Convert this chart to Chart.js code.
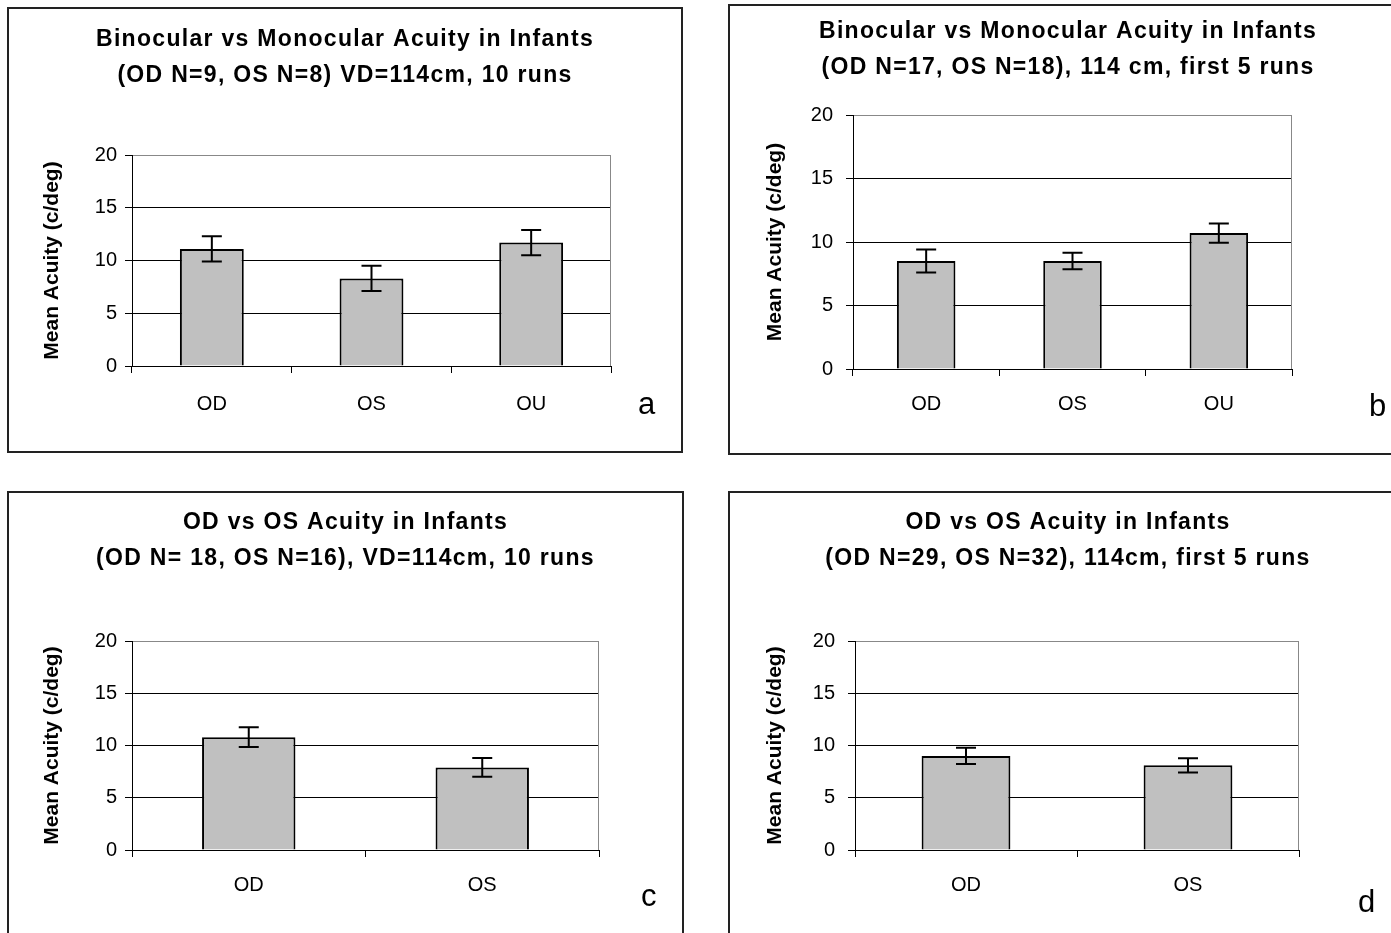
<!DOCTYPE html>
<html>
<head>
<meta charset="utf-8">
<script src="https://cdn.jsdelivr.net/npm/chart.js@4"></script>
<style>
  body { margin: 0; background: #fff; width: 1391px; height: 933px; overflow: hidden; position: relative;
         font-family: "Liberation Sans", Arial, sans-serif; }
  .panel { position: absolute; border: 2px solid #222; box-sizing: border-box; background: #fff; }
  .panel canvas { position: absolute; left: 0; top: 0; }
  .tag { position: absolute; font-size: 31px; line-height: 31px; color: #000; }
</style>
</head>
<body>
<script>
// data
const catsThree = ["OD", "OS", "OU"];
const catsTwo = ["OD", "OS"];
const yTicks = [0, 5, 10, 15, 20];

const titleA = ["Binocular vs Monocular Acuity in Infants", "(OD N=9, OS N=8) VD=114cm, 10 runs"];
const titleB = ["Binocular vs Monocular Acuity in Infants", "(OD N=17, OS N=18), 114 cm, first 5 runs"];
const titleC = ["OD vs OS Acuity in Infants", "(OD N= 18, OS N=16), VD=114cm, 10 runs"];
const titleD = ["OD vs OS Acuity in Infants", "(OD N=29, OS N=32), 114cm, first 5 runs"];
const yLabel = "Mean Acuity (c/deg)";

const meanA = [11.1, 8.3, 11.7];
const errA = [1.2, 1.2, 1.2];
const meanB = [8.5, 8.5, 10.7];
const errB = [0.9, 0.65, 0.75];
const meanC = [10.8, 7.9];
const errC = [0.95, 0.9];
const meanD = [9.0, 8.1];
const errD = [0.78, 0.68];

// layout of each panel on the page (box, plot area, text spots)
const panels = [
  { tag: "a", box: [7, 7, 676, 446], plot: [132, 155, 611, 366], t1: 40, yTitleX: 52, yTickPad: 8,
    xLabelY: 404, tagAt: [638, 414], title: titleA, cats: catsThree, mean: meanA, err: errA },
  { tag: "b", box: [728, 4, 680, 451], plot: [853, 115, 1292, 369], t1: 32, yTitleX: 775, yTickPad: 13,
    xLabelY: 404, tagAt: [1369, 416], title: titleB, cats: catsThree, mean: meanB, err: errB },
  { tag: "c", box: [7, 491, 677, 460], plot: [132, 641, 599, 850], t1: 523, yTitleX: 52, yTickPad: 8,
    xLabelY: 885, tagAt: [641, 906], title: titleC, cats: catsTwo, mean: meanC, err: errC },
  { tag: "d", box: [728, 491, 680, 460], plot: [855, 641, 1299, 850], t1: 523, yTitleX: 775, yTickPad: 13,
    xLabelY: 885, tagAt: [1358, 912], title: titleD, cats: catsTwo, mean: meanD, err: errD },
];

Chart.defaults.font.family = '"Liberation Sans", Arial, sans-serif';
Chart.defaults.color = "#000";

// error bars drawn from the y scale, plus the grey right edge of the plot
const errorBars = {
  id: "errorBars",
  beforeDatasetsDraw(chart) {
    const { ctx, chartArea: a } = chart;
    ctx.save();
    ctx.strokeStyle = "#888";
    ctx.lineWidth = 1;
    ctx.beginPath();
    ctx.moveTo(Math.round(a.right) - 0.5, a.top);
    ctx.lineTo(Math.round(a.right) - 0.5, a.bottom);
    ctx.stroke();
    ctx.restore();
  },
  afterDatasetsDraw(chart) {
    const { ctx, scales: { y } } = chart;
    const ds = chart.data.datasets[0];
    const meta = chart.getDatasetMeta(0);
    ctx.save();
    ctx.strokeStyle = "#000";
    ctx.lineWidth = 2;
    meta.data.forEach((bar, i) => {
      const top = y.getPixelForValue(ds.data[i] + ds.errors[i]);
      const bot = y.getPixelForValue(ds.data[i] - ds.errors[i]);
      ctx.beginPath();
      ctx.moveTo(bar.x, top); ctx.lineTo(bar.x, bot);
      ctx.moveTo(bar.x - 10, top); ctx.lineTo(bar.x + 10, top);
      ctx.moveTo(bar.x - 10, bot); ctx.lineTo(bar.x + 10, bot);
      ctx.stroke();
    });
    ctx.restore();
  }
};

const titleLH = 35.5;

panels.forEach(p => {
  const [bl, bt, bw, bh] = p.box;
  const [pl, pt, pr, pb] = p.plot;
  const div = document.createElement("div");
  div.className = "panel";
  Object.assign(div.style, { left: bl + "px", top: bt + "px", width: bw + "px", height: bh + "px" });
  const cv = document.createElement("canvas");
  const W = bw - 4, H = bh - 4, ox = bl + 2, oy = bt + 2;
  cv.width = W; cv.height = H;
  div.appendChild(cv);
  document.body.appendChild(div);

  const xAxisH = 60;
  const titleTop = p.t1 - oy - titleLH / 2;

  const chart = new Chart(cv, {
    type: "bar",
    data: {
      labels: p.cats,
      datasets: [{
        data: p.mean,
        errors: p.err,
        backgroundColor: "#c0c0c0",
        borderColor: "#000",
        borderWidth: 2,
        barPercentage: 0.4,
        categoryPercentage: 1.0,
      }],
    },
    options: {
      responsive: false,
      animation: false,
      layout: { padding: { left: 0, top: 0, right: 0, bottom: H - (pb - oy) - xAxisH } },
      plugins: {
        legend: { display: false },
        tooltip: { enabled: false },
        title: {
          display: true,
          text: p.title,
          color: "#000",
          font: { size: 23, weight: "bold", lineHeight: titleLH / 23 },
          padding: { top: titleTop, bottom: (pt - oy) - titleTop - 2 * titleLH },
        },
      },
      scales: {
        x: {
          afterFit: s => { s.height = xAxisH; },
          grid: { drawOnChartArea: false, offset: true, tickLength: 7, color: "#000" },
          border: { color: "#000", width: 1 },
          ticks: { font: { size: 20 }, padding: (p.xLabelY - pb) - 7 - 12 },
        },
        y: {
          min: 0, max: 20,
          afterFit: s => { s.width = pl - ox; },
          afterBuildTicks: s => { s.ticks = yTicks.map(v => ({ value: v })); },
          grid: {
            color: c => (c.tick && c.tick.value === 20 ? "#888" : "#000"),
            tickColor: "#000",
            tickLength: 7,
            lineWidth: 1,
          },
          border: { color: "#000", width: 1 },
          ticks: { font: { size: 20 }, padding: p.yTickPad },
          title: {
            display: true,
            text: yLabel,
            font: { size: 21, weight: "bold" },
            padding: { top: p.yTitleX - ox - 12.6, bottom: 0 },
          },
        },
        // empty right axis that keeps the space right of the plot, so the title stays centred in the box
        side: {
          type: "linear", axis: "y", position: "right", display: true,
          afterFit: s => { s.width = W - (pr - ox); },
          grid: { display: false }, border: { display: false }, ticks: { display: false },
        },
      },
    },
    plugins: [errorBars],
  });

  // the original title is spaced out a little
  const tb = chart.titleBlock;
  const drawTitle = tb.draw.bind(tb);
  tb.draw = function (area) {
    chart.ctx.letterSpacing = "1.3px";
    drawTitle(area);
    chart.ctx.letterSpacing = "0px";
  };
  chart.draw();

  const t = document.createElement("div");
  t.className = "tag";
  t.textContent = p.tag;
  t.style.left = p.tagAt[0] + "px";
  t.style.top = (p.tagAt[1] - 26) + "px";
  document.body.appendChild(t);
});
</script>
</body>
</html>
